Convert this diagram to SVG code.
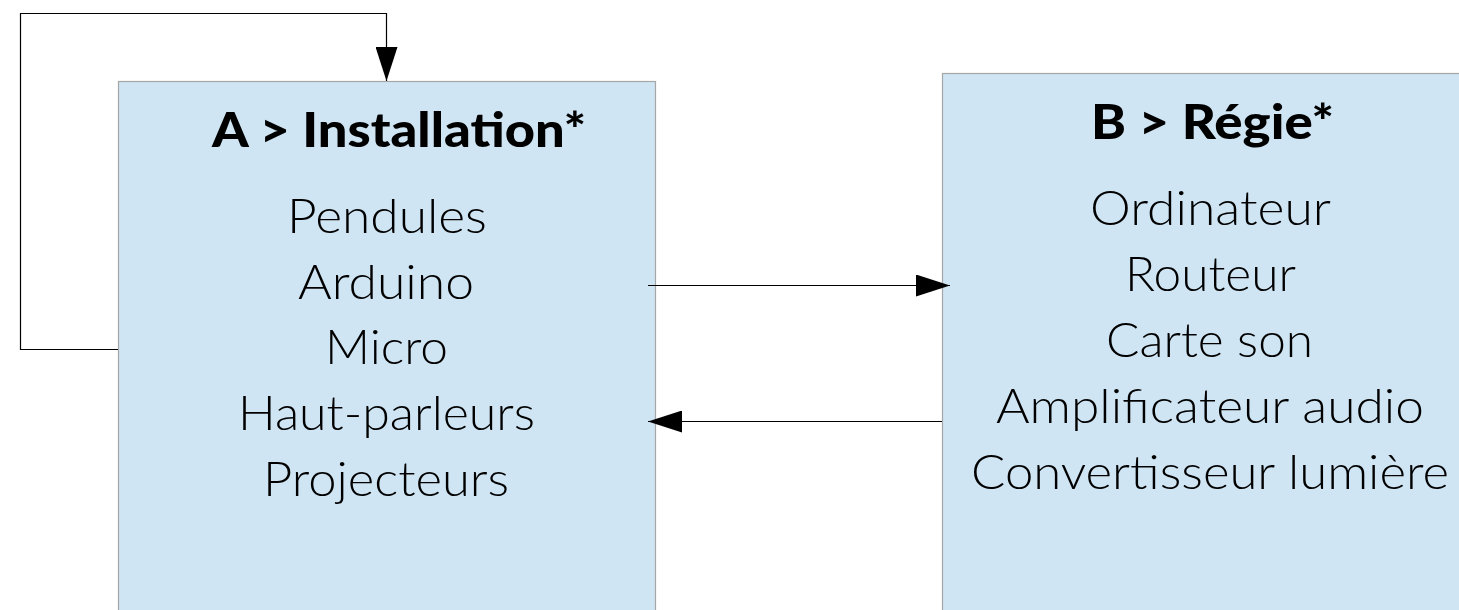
<svg xmlns="http://www.w3.org/2000/svg" width="1459" height="610" viewBox="0 0 1459 610">
  <style>
    .box { fill: #cfe5f3; stroke: #a6a6a6; stroke-width: 1.2; }
    .title { font-family: Lato, "Open Sans", "Liberation Sans", sans-serif; font-weight: 900; font-size: 47px; fill: #000; text-anchor: middle; }
    .item { font-family: Lato, "Open Sans", "Liberation Sans", sans-serif; font-weight: 300; font-size: 47px; fill: #000; text-anchor: middle; }
    .wire { fill: none; stroke: #000; stroke-width: 1.2; }
  </style>
  <defs>
    <marker id="arrow" viewBox="0 0 34 22" refX="34" refY="11" markerWidth="34" markerHeight="22" markerUnits="userSpaceOnUse" orient="auto">
      <path d="M0,0 L34,11 L0,22 Z" fill="#000"/>
    </marker>
  </defs>

  <rect width="1459" height="610" fill="#fff"/>

  <g id="node-installation">
    <rect class="box" x="118.5" y="81.5" width="537" height="540"/>
    <text class="title" x="399" y="147" textLength="374" lengthAdjust="spacingAndGlyphs">A &gt; Installation*</text>
    <text class="item" x="387" y="233" textLength="200" lengthAdjust="spacingAndGlyphs">Pendules</text>
    <text class="item" x="386" y="299" textLength="176" lengthAdjust="spacingAndGlyphs">Arduino</text>
    <text class="item" x="386.5" y="364" textLength="123" lengthAdjust="spacingAndGlyphs">Micro</text>
    <text class="item" x="386.5" y="430" textLength="297" lengthAdjust="spacingAndGlyphs">Haut-parleurs</text>
    <text class="item" x="386" y="496" textLength="246" lengthAdjust="spacingAndGlyphs">Projecteurs</text>
  </g>

  <g id="node-regie">
    <rect class="box" x="942.5" y="73.5" width="536" height="550"/>
    <text class="title" x="1212.5" y="139" textLength="243" lengthAdjust="spacingAndGlyphs">B &gt; Régie*</text>
    <text class="item" x="1210.5" y="225" textLength="241" lengthAdjust="spacingAndGlyphs">Ordinateur</text>
    <text class="item" x="1210.5" y="291" textLength="171" lengthAdjust="spacingAndGlyphs">Routeur</text>
    <text class="item" x="1209.5" y="357" textLength="207" lengthAdjust="spacingAndGlyphs">Carte son</text>
    <text class="item" x="1210" y="423" textLength="428" lengthAdjust="spacingAndGlyphs">Amplificateur audio</text>
    <text class="item" x="1210" y="489" textLength="478" lengthAdjust="spacingAndGlyphs">Convertisseur lumière</text>
  </g>

  <g id="connectors">
    <!-- self loop: left side of Installation back onto its top edge -->
    <path class="wire" d="M118,349.5 H20.5 V13.5 H386.5 V81" marker-end="url(#arrow)"/>
    <!-- Installation to Régie -->
    <path class="wire" d="M648,285.5 H950" marker-end="url(#arrow)"/>
    <!-- Régie back to Installation -->
    <path class="wire" d="M942,421.5 H648" marker-end="url(#arrow)"/>
  </g>
</svg>
